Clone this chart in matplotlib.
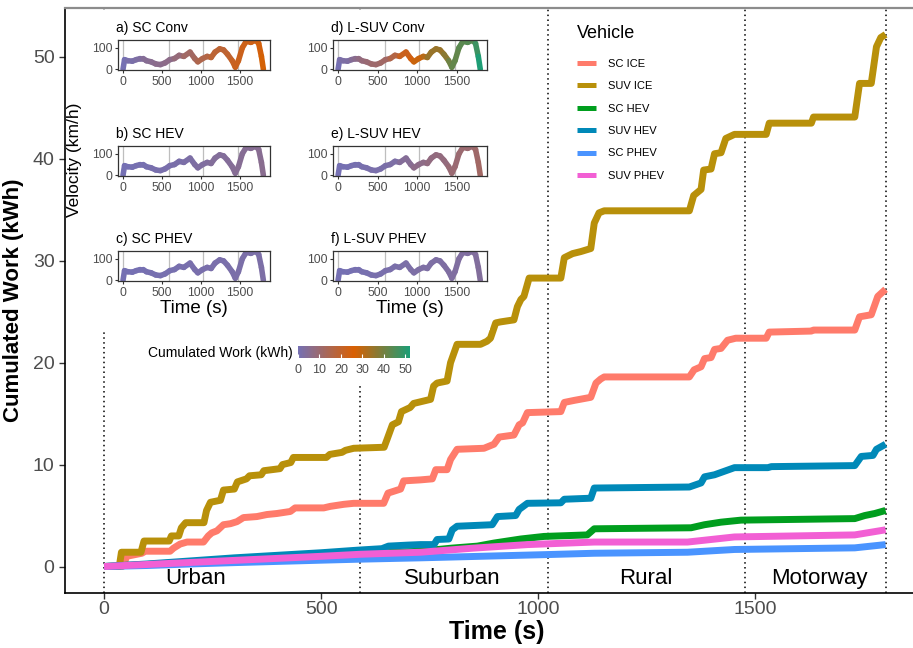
import numpy as np
import matplotlib.pyplot as plt
from matplotlib.colors import LinearSegmentedColormap, Normalize
from matplotlib.collections import LineCollection
from matplotlib.cm import ScalarMappable

plt.rcParams['font.family'] = ['Liberation Sans', 'DejaVu Sans']

# ---- cumulated work per vehicle (time s, kWh) ----
sc_ice_t = [0, 42, 48, 52, 87, 95, 152, 160, 175, 191, 229, 240, 248, 260, 275, 291, 306, 321, 352, 375,
            398, 429, 440, 506, 521, 552, 575, 644, 654, 683, 690, 729, 756, 764, 790, 798, 813, 875, 898,
            910, 944, 956, 964, 975, 1052, 1060, 1083, 1121, 1133, 1144, 1152, 1348, 1359, 1375, 1383,
            1398, 1406, 1421, 1436, 1455, 1525, 1532, 1629, 1634, 1729, 1740, 1767, 1782, 1800]
sc_ice_w = [0, 0, 0.5, 1.0, 1.3, 1.5, 1.5, 1.8, 2.2, 2.4, 2.4, 3.0, 3.3, 3.5, 4.1, 4.2, 4.4, 4.8, 4.9, 5.1,
            5.2, 5.4, 5.75, 5.75, 5.9, 6.1, 6.2, 6.2, 7.2, 7.6, 8.4, 8.5, 8.6, 9.5, 9.5, 10.5, 11.5, 11.6, 12.0,
            12.7, 12.9, 13.9, 14.1, 15.1, 15.2, 16.1, 16.3, 16.6, 18.0, 18.4, 18.6, 18.6, 19.3, 19.6, 20.4,
            20.5, 21.3, 21.4, 22.2, 22.4, 22.4, 23.0, 23.1, 23.2, 23.2, 24.5, 24.7, 26.5, 27.2]

suv_ice_t = [0, 35, 40, 85, 92, 150, 155, 172, 178, 188, 230, 236, 245, 268, 275, 300, 307, 328, 335, 362,
             368, 405, 411, 430, 436, 512, 520, 548, 556, 575, 645, 652, 664, 678, 685, 705, 713, 752, 759,
             767, 790, 798, 813, 867, 882, 890, 902, 913, 944, 952, 960, 967, 979, 1052, 1060, 1079, 1098,
             1121, 1129, 1140, 1152, 1348, 1358, 1375, 1381, 1398, 1406, 1421, 1432, 1452, 1525, 1532,
             1629, 1634, 1729, 1740, 1767, 1779, 1789, 1800]
suv_ice_w = [0, 0, 1.4, 1.4, 2.5, 2.5, 3.0, 3.0, 3.8, 4.3, 4.3, 5.5, 6.3, 6.5, 7.5, 7.6, 8.3, 8.6, 8.9, 9.0,
             9.4, 9.6, 10.0, 10.2, 10.7, 10.7, 11.0, 11.2, 11.4, 11.6, 11.7, 12.5, 13.9, 14.2, 15.2, 15.6,
             16.0, 16.4, 17.7, 18.0, 18.2, 20.0, 21.8, 21.8, 22.1, 22.4, 23.9, 24.0, 24.2, 25.5, 26.2, 26.5,
             28.3, 28.3, 30.3, 30.7, 30.9, 31.2, 33.7, 34.7, 34.9, 34.9, 36.4, 37.0, 38.9, 39.0, 40.5, 40.6,
             42.0, 42.4, 42.4, 43.5, 43.5, 44.1, 44.1, 47.4, 47.4, 51.0, 51.9, 52.2]

sc_hev_t = [0, 100, 200, 300, 400, 500, 590, 729, 800, 860, 898, 960, 1013, 1113, 1129, 1352, 1383, 1421,
            1467, 1729, 1752, 1775, 1800]
sc_hev_w = [0, 0.2, 0.45, 0.65, 0.85, 1.05, 1.25, 1.5, 1.8, 2.0, 2.3, 2.7, 2.95, 3.1, 3.7, 3.8, 4.1, 4.35,
            4.55, 4.7, 5.0, 5.2, 5.5]

suv_hev_t = [0, 100, 200, 300, 400, 500, 583, 640, 655, 700, 729, 760, 767, 794, 802, 813, 894, 906, 948,
             956, 975, 1052, 1060, 1121, 1129, 1348, 1375, 1383, 1406, 1429, 1452, 1529, 1537, 1729, 1744,
             1771, 1779, 1800]
suv_hev_w = [0, 0.25, 0.55, 0.85, 1.1, 1.35, 1.6, 1.75, 2.0, 2.1, 2.15, 2.15, 2.65, 2.7, 3.6, 3.95, 4.1,
             4.9, 5.0, 5.6, 6.2, 6.25, 6.6, 6.7, 7.7, 7.8, 8.2, 8.8, 9.0, 9.35, 9.7, 9.7, 9.8, 9.9, 10.8,
             10.9, 11.5, 12.0]

sc_phev_t = [0, 100, 200, 300, 400, 500, 590, 729, 1021, 1129, 1344, 1452, 1729, 1800]
sc_phev_w = [0, 0.1, 0.25, 0.38, 0.5, 0.62, 0.72, 0.85, 1.17, 1.3, 1.4, 1.67, 1.83, 2.15]

suv_phev_t = [0, 100, 200, 300, 400, 500, 590, 729, 850, 975, 1129, 1344, 1452, 1729, 1800]
suv_phev_w = [0, 0.2, 0.4, 0.6, 0.8, 1.0, 1.2, 1.4, 1.8, 2.15, 2.4, 2.4, 2.9, 3.1, 3.6]

vehicles = ['SC ICE', 'SUV ICE', 'SC HEV', 'SUV HEV', 'SC PHEV', 'SUV PHEV']
colors = ['#FF7B6B', '#B8900A', '#009E1E', '#0089B8', '#4A94FF', '#F25FD4']
series = [(sc_ice_t, sc_ice_w), (suv_ice_t, suv_ice_w), (sc_hev_t, sc_hev_w),
          (suv_hev_t, suv_hev_w), (sc_phev_t, sc_phev_w), (suv_phev_t, suv_phev_w)]

# RDE segments
bounds = [0, 590, 1022, 1476, 1802]
seg_names = ['Urban', 'Suburban', 'Rural', 'Motorway']
seg_label_t = [210, 803, 1248, 1647]

# velocity profile (s, km/h)
vel_t = [0, 20, 60, 120, 170, 220, 260, 300, 360, 420, 480, 540, 600, 660, 720, 780, 860, 920, 960, 1020,
         1080, 1130, 1180, 1240, 1290, 1340, 1400, 1440, 1480, 1530, 1580, 1640, 1700, 1740, 1775, 1800]
vel_v = [0, 45, 40, 38, 45, 50, 50, 40, 35, 25, 22, 30, 45, 50, 65, 60, 80, 50, 35, 50,
         60, 55, 80, 95, 90, 70, 40, 10, 40, 100, 130, 125, 135, 120, 60, 0]

panel_titles = ['a) SC Conv', 'b) SC HEV', 'c) SC PHEV', 'd) L-SUV Conv', 'e) L-SUV HEV', 'f) L-SUV PHEV']
panel_series = [0, 2, 4, 1, 3, 5]

W, H = 913, 648


def fr(x0, y0, x1, y1):
    return [x0 / W, 1 - y1 / H, (x1 - x0) / W, (y1 - y0) / H]


fig = plt.figure(figsize=(W / 100, H / 100), dpi=100)
ax = fig.add_axes(fr(65, 8, 929, 593))

lines = []
for (t, w), c, name in zip(series, colors, vehicles):
    ln, = ax.plot(t, w, color=c, lw=5, label=name, solid_joinstyle='round', solid_capstyle='butt', zorder=2)
    lines.append(ln)

for b in bounds:
    ax.axvline(b, color='black', ls=(0, (1, 2.2)), lw=1.1, zorder=1)

for name, tt in zip(seg_names, seg_label_t):
    ax.text(tt, -1.2, name, ha='center', va='center', fontsize=16)

ax.set_xlim(-90, 1900)
ax.set_ylim(-2.6, 54.8)
ax.set_xticks([0, 500, 1000, 1500])
ax.set_yticks([0, 10, 20, 30, 40, 50])
ax.tick_params(length=4, width=1, color='#333333', labelcolor='#4D4D4D', labelsize=14)
ax.tick_params(axis='x', pad=2)
ax.set_xlabel('Time (s)', fontsize=18, fontweight='bold', labelpad=1)
ax.set_ylabel('Cumulated Work (kWh)', fontsize=16, fontweight='bold', labelpad=6)
ax.spines['right'].set_visible(False)
ax.spines['top'].set_color('#8C8C8C')
ax.spines['top'].set_linewidth(1.6)
ax.spines['left'].set_linewidth(1.2)
ax.spines['bottom'].set_linewidth(1.2)

leg = ax.legend(lines, vehicles, title='Vehicle', loc='upper left', bbox_to_anchor=(577 / W, 1 - 25 / H),
                bbox_transform=fig.transFigure, frameon=False, fontsize=8, title_fontsize=13,
                handlelength=1.7, handletextpad=1.05, labelspacing=1.12, borderaxespad=0, borderpad=0)
leg._legend_box.align = 'left'
leg._legend_box.sep = 12
for hl in leg.get_lines():
    hl.set_linewidth(3.6)

# white backgrounds behind the inset block and colour legend
for box in [fr(66, 10, 490, 330), fr(130, 330, 425, 385)]:
    bg = fig.add_axes(box, zorder=2)
    bg.set_xticks([])
    bg.set_yticks([])
    for s in bg.spines.values():
        s.set_visible(False)

cmap = LinearSegmentedColormap.from_list('work', ['#7570B3', '#D95F02', '#1B9E77'])
norm = Normalize(0, 52.2)

px = [(118, 270), (333, 487)]
py = [(40, 70), (146, 176), (251, 281)]
vt = np.array(vel_t, dtype=float)
vv = np.array(vel_v, dtype=float)
pts = np.column_stack([vt, vv])
segs = np.stack([pts[:-1], pts[1:]], axis=1)
mids = (vt[:-1] + vt[1:]) / 2
for i, (title, si) in enumerate(zip(panel_titles, panel_series)):
    col, row = i // 3, i % 3
    x0, x1 = px[col]
    y0, y1 = py[row]
    iax = fig.add_axes(fr(x0, y0, x1, y1), zorder=3)
    t, w = series[si]
    cvals = np.interp(mids, t, w)
    lc = LineCollection(segs, cmap=cmap, norm=norm, lw=4, capstyle='round', joinstyle='round')
    lc.set_array(cvals)
    iax.add_collection(lc)
    for b in bounds[:-1]:
        iax.axvline(b, color='#BEBEBE', lw=0.9, zorder=0)
    iax.set_xlim(-64, 1885)
    iax.set_ylim(-3, 136)
    iax.set_xticks([0, 500, 1000, 1500])
    iax.set_yticks([0, 100])
    iax.tick_params(length=2.5, width=0.8, color='#333333', labelcolor='#4D4D4D', labelsize=8.7, pad=1.5)
    for s in iax.spines.values():
        s.set_color('#333333')
        s.set_linewidth(0.9)
    iax.set_title(title, loc='left', fontsize=10, pad=6, x=-0.01)
    if row == 2:
        iax.set_xlabel('Time (s)', fontsize=13.5, labelpad=1)

fig.text(75 / W, 1 - 160 / H, 'Velocity (km/h)', rotation=90, ha='center', va='center', fontsize=12.5)

cax = fig.add_axes(fr(298, 346, 410, 358), zorder=3)
cb = fig.colorbar(ScalarMappable(norm=norm, cmap=cmap), cax=cax, orientation='horizontal')
cb.outline.set_visible(False)
cb.set_ticks([0, 10, 20, 30, 40, 50])
cax.tick_params(axis='x', direction='in', length=3, color='white', labelcolor='#4D4D4D', labelsize=9, pad=4)
fig.text(293 / W, 1 - 353 / H, 'Cumulated Work (kWh)', ha='right', va='center', fontsize=10, zorder=4)

fig.savefig('out.png', dpi=100)
